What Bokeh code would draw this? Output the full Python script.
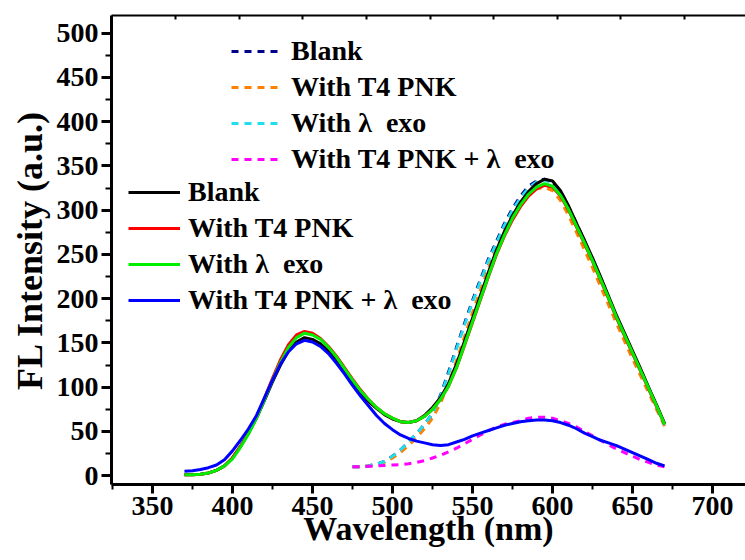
from bokeh.plotting import figure
from bokeh.models import (Range1d, LinearAxis, FixedTicker, Legend, LegendItem,
                          CustomJSTickFormatter)
from bokeh.embed import file_html
from bokeh.resources import INLINE

# ---------------- data ----------------
wl_solid = list(range(370, 675, 5))
wl_dash = list(range(475, 675, 5))

blank_solid = [1, 1, 1.5, 3, 6, 11, 20, 33, 48, 65, 85, 106, 125, 141, 151, 156, 154, 149, 141, 130,
               118, 106, 94, 84, 76, 69, 64, 61, 60, 62, 68, 77, 88, 104, 126, 152, 178, 204, 230, 255,
               276, 294, 309, 321, 330, 335, 333, 322, 305, 285, 266, 246, 225, 203, 181, 161, 141, 121,
               100, 80, 59]
t4_solid = [1, 1, 1.5, 3, 6, 11, 20, 33, 48, 66, 88, 110, 131, 148, 159, 163, 161, 155, 146, 135,
            122, 109, 97, 86, 77, 70, 65, 61, 60, 62, 67, 75, 86, 101, 122, 147, 173, 199, 225, 250,
            271, 289, 304, 316, 324, 328, 326, 316, 300, 281, 262, 242, 221, 200, 178, 158, 138, 118,
            98, 78, 58]
exo_solid = [1, 1, 1.5, 3, 6, 11, 19, 32, 47, 65, 86, 108, 128, 145, 156, 161, 159, 154, 145, 134,
             121, 108, 96, 86, 77, 70, 65, 61, 60, 62, 67, 75, 86, 101, 122, 148, 174, 200, 226, 251,
             272, 291, 306, 318, 326, 330, 327, 317, 301, 282, 263, 243, 222, 201, 179, 159, 139, 119,
             99, 79, 58]
both_solid = [5, 5.5, 7, 9, 12, 18, 28, 40, 53, 68, 88, 108, 126, 140, 149, 153, 151, 146, 138, 127,
              115, 102, 90, 79, 68, 59, 52, 46, 42, 39, 37, 35, 34, 35, 38, 41, 45, 48, 51, 54,
              57, 59, 61, 62, 63, 63, 62, 60, 57, 53, 48, 44, 40, 37, 34, 30, 26, 22,
              18, 14, 11]

blank_dash = [10, 10, 11, 13, 16, 22, 29, 38, 47, 58, 70, 91, 117, 145, 172, 198, 222, 245, 265, 285,
              302, 316, 327, 333, 335, 332, 321, 304, 285, 265, 244, 223, 201, 179, 159, 139, 119, 99,
              79, 58]
t4_dash = [10, 10, 11, 13, 15, 20, 26, 34, 43, 53, 65, 82, 104, 130, 157, 184, 210, 235, 257, 277,
           294, 308, 318, 324, 326, 322, 311, 294, 275, 255, 235, 214, 193, 172, 152, 132, 113, 94,
           75, 56]
exo_dash = [10, 10, 11, 13, 16, 22, 29, 38, 47, 58, 70, 90, 115, 143, 170, 196, 220, 243, 263, 283,
            300, 314, 325, 332, 334, 331, 320, 303, 284, 264, 243, 222, 200, 178, 158, 138, 118, 98,
            78, 57]
both_dash = [10, 10, 10.5, 11, 11.5, 12, 12.5, 13.5, 15, 17, 20, 23, 27, 31, 36, 41, 46, 51, 55, 58,
             60, 62, 65, 66, 66, 65, 62, 59, 55, 50, 45, 40, 35, 30, 26, 22, 18, 15, 12, 10]

labels = ["Blank", "With T4 PNK", "With \u03bb\u00a0 exo", "With T4 PNK + \u03bb\u00a0 exo"]
solid_colors = ["#000000", "#ff0000", "#00ee00", "#0000ff"]
dash_colors = ["#00008b", "#ff7f00", "#22ddee", "#ff00ff"]

y_ticks = list(range(0, 550, 50))
x_ticks = list(range(350, 750, 50))

# ---------------- figure ----------------
FONT = "Liberation Serif"

p = figure(width=745, height=560, output_backend="svg", toolbar_location=None,
           x_range=Range1d(324.4, 720.6), y_range=Range1d(-10, 520),
           min_border_left=111, min_border_right=0, min_border_top=15, min_border_bottom=76,
           x_axis_location=None, y_axis_location=None)
p.xgrid.visible = False
p.ygrid.visible = False
p.outline_line_color = None
p.background_fill_color = "white"
p.border_fill_color = "white"

dash_renderers = []
for ys, c in zip([blank_dash, t4_dash, exo_dash, both_dash], dash_colors):
    r = p.line(wl_dash, ys, line_color=c, line_width=3, line_dash="7 6")
    dash_renderers.append(r)
solid_renderers = []
for ys, c in zip([blank_solid, t4_solid, exo_solid, both_solid], solid_colors):
    r = p.line(wl_solid, ys, line_color=c, line_width=3)
    solid_renderers.append(r)

# axes
yaxis = LinearAxis(ticker=FixedTicker(ticks=y_ticks, minor_ticks=list(range(0, 525, 25))))
xaxis = LinearAxis(ticker=FixedTicker(ticks=x_ticks, minor_ticks=list(range(325, 725, 25))))
for ax in (xaxis, yaxis):
    ax.axis_line_width = 3
    ax.axis_line_color = "black"
    ax.major_tick_line_width = 3
    ax.minor_tick_line_width = 2
    ax.major_tick_in = 0
    ax.minor_tick_in = 0
    ax.major_label_text_font = FONT
    ax.major_label_text_font_style = "bold"
    ax.major_label_text_font_size = "28px"
    ax.major_label_text_color = "black"
    ax.axis_label_text_font = FONT
    ax.axis_label_text_font_style = "bold"
    ax.axis_label_text_font_size = "36px"
    ax.axis_label_text_color = "black"
yaxis.major_tick_out = 10
yaxis.minor_tick_out = 6
yaxis.major_label_standoff = 3
yaxis.axis_label = "FL Intensity (a.u.)"
yaxis.axis_label_standoff = 4
xaxis.major_tick_out = 9
xaxis.minor_tick_out = 5
xaxis.major_label_standoff = 3
xaxis.axis_label = "Wavelength (nm)"
xaxis.axis_label_text_font_size = "34px"
xaxis.axis_label_standoff = -8
p.add_layout(yaxis, "left")
p.add_layout(xaxis, "below")

top = LinearAxis(ticker=FixedTicker(ticks=[364.4 + 39.76 * k for k in range(9)], minor_ticks=[]),
                 formatter=CustomJSTickFormatter(code="return ''"))
top.axis_line_width = 2
top.major_tick_in = 4
top.major_tick_out = 0
top.major_tick_line_width = 2
top.major_label_standoff = 0
top.major_label_text_font_size = "1px"
p.add_layout(top, "above")

def make_legend(renderers, loc):
    items = [LegendItem(label=l, renderers=[r]) for l, r in zip(labels, renderers)]
    lg = Legend(items=items, location=loc, border_line_color=None, background_fill_alpha=0,
                label_text_font=FONT, label_text_font_style="bold", label_text_font_size="28px",
                label_text_color="black", glyph_width=52, glyph_height=32, label_height=32,
                label_standoff=8, spacing=4, padding=0, margin=0)
    return lg

p.add_layout(make_legend(dash_renderers, (120, 309)))
p.add_layout(make_legend(solid_renderers, (17, 168)))

open("out.html", "w").write(file_html(p, INLINE))
